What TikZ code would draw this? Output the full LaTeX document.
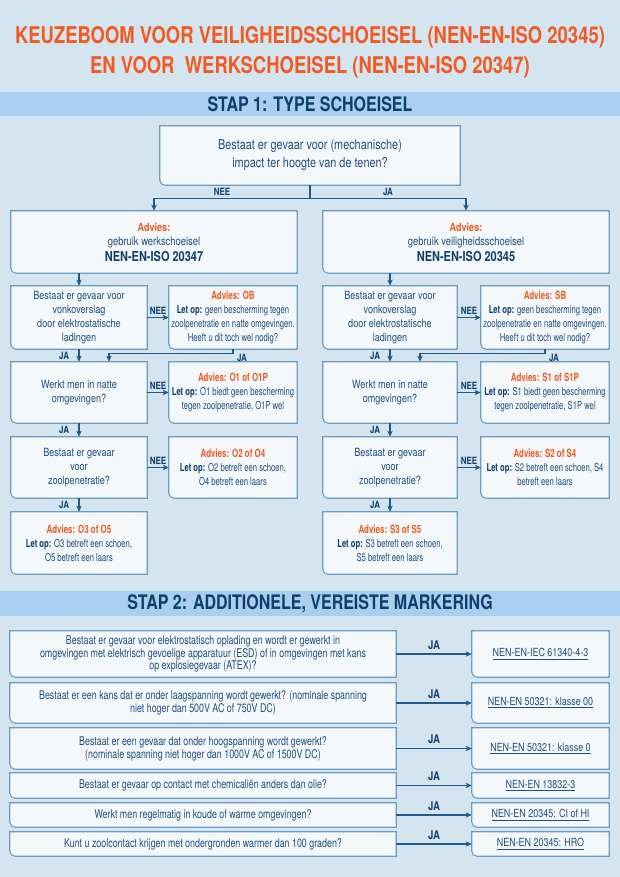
\documentclass[tikz,border=0pt]{standalone}
\usepackage{fontspec}
\setmainfont{TeX Gyre Heros}[FakeStretch=0.8]
\newfontfamily\narrowf{TeX Gyre Heros}[FakeStretch=0.7]
\newfontfamily\midf{TeX Gyre Heros}[FakeStretch=0.74]
\usetikzlibrary{arrows.meta,calc}
\pgfdeclarelayer{back}\pgfdeclarelayer{bg}\pgfsetlayers{back,bg,main}
\definecolor{bgcol}{HTML}{D4E5F0}
\definecolor{bandcol}{HTML}{A9CEEE}
\definecolor{boxfill}{HTML}{F4F8FB}
\definecolor{boxedge}{HTML}{6B9DC3}
\definecolor{txt}{HTML}{1F4F7D}
\definecolor{dark}{HTML}{0F3F6C}
\definecolor{orng}{HTML}{F15A22}
\definecolor{conn}{HTML}{1F5A8A}
\tikzset{
  boxline/.style={draw=boxedge, fill=boxfill, line width=0.8pt},
  arr/.style={draw=conn, line width=0.9pt, -{Stealth[length=4.5pt,width=4pt,inset=1.2pt]}},
  ln/.style={draw=conn, line width=0.9pt},
  lbl/.style={font=\bfseries\fontsize{7.5}{8}\selectfont, text=dark, inner sep=1pt},
  jalbl/.style={font=\bfseries\fontsize{9}{10}\selectfont, text=dark, inner sep=2pt},
  topq/.style={inner sep=0, align=center, text=txt, font=\fontsize{10.2}{13.5}\selectfont},
  advtext/.style={inner sep=0, align=center, text=txt, font=\fontsize{8.8}{10.5}\selectfont},
  qtext/.style={inner sep=0, align=center, text=txt, font=\fontsize{8.5}{10.5}\selectfont},
  otext/.style={inner sep=0, align=center, text=txt, font=\narrowf\fontsize{8.2}{10.5}\selectfont},
  stwo/.style={inner sep=0, align=center, text=txt, font=\midf\fontsize{9}{8.4}\selectfont},
  sres/.style={inner sep=0, align=center, text=txt, font=\fontsize{8.4}{10}\selectfont},
  ttl/.style={text=orng, font=\bfseries\fontsize{17.3}{20}\selectfont, inner sep=0},
  bandtxt/.style={text=dark, font=\bfseries\fontsize{15}{17}\selectfont, inner sep=0}
}
\newcommand\boxnode[7]{\node[#6, minimum width={(#4-#2)*0.75pt}, minimum height={(#5-#3)*0.75pt}] (#1) at ({(#2+#4)/2},{(#3+#5)/2}) {#7};}
\newcommand\bx[1]{\draw[boxline] ([yshift=4pt]#1.south west) -- (#1.north west) -- (#1.north east) -- (#1.south east) -- ([xshift=4pt]#1.south west) arc[start angle=270,end angle=180,radius=4pt] -- cycle;}
\newcommand\advh[1]{{\color{orng}\bfseries\fontsize{8.5}{10.5}\selectfont #1}}
\newcommand\letop{{\color{dark}\bfseries Let op:}}
\begin{document}
\begin{tikzpicture}[x=0.75pt,y=-0.75pt]
\useasboundingbox (0,0) rectangle (620,877);
\begin{pgfonlayer}{back}
\fill[bgcol] (0,0) rectangle (620,877);
\fill[bandcol] (0,92) rectangle (620,116);
\fill[bandcol] (0,591) rectangle (620,616);
\end{pgfonlayer}
\node[ttl] (t1) at (310,37) {KEUZEBOOM VOOR VEILIGHEIDSSCHOEISEL (NEN-EN-ISO 20345)};
\node[ttl] (t2) at (310,67) {EN VOOR\ \ WERKSCHOEISEL (NEN-EN-ISO 20347)};
\node[bandtxt] (s1) at (310,104) {STAP 1: TYPE SCHOEISEL};
\node[bandtxt] (s2) at (310,604) {STAP 2: ADDITIONELE, VEREISTE MARKERING};

% step 1
\boxnode{q0}{160}{126}{460}{185}{topq}{Bestaat er gevaar voor (mechanische)\\impact ter hoogte van de tenen?}
\boxnode{aL}{11}{211}{297}{273}{advtext}{\advh{Advies:}\\gebruik werkschoeisel\\[1.5pt]{\color{dark}\bfseries\fontsize{10.3}{12}\selectfont NEN-EN-ISO 20347}}
\boxnode{aR}{323}{211}{609}{273}{advtext}{\advh{Advies:}\\gebruik veiligheidsschoeisel\\[1.5pt]{\color{dark}\bfseries\fontsize{10.3}{12}\selectfont NEN-EN-ISO 20345}}

\boxnode{qL1}{11}{286}{147}{349}{qtext}{Bestaat er gevaar voor\\vonkoverslag\\door elektrostatische\\ladingen}
\boxnode{oL1}{169}{286}{297}{349}{otext}{\advh{Advies: OB}\\\letop{} geen bescherming tegen\\zoolpenetratie en natte omgevingen.\\Heeft u dit toch wel nodig?}
\boxnode{qL2}{11}{362}{147}{423}{qtext}{Werkt men in natte\\omgevingen?}
\boxnode{oL2}{169}{362}{297}{423}{otext}{\advh{Advies: O1 of O1P}\\\letop{} O1 biedt geen bescherming\\tegen zoolpenetratie, O1P wel}
\boxnode{qL3}{11}{437}{147}{498}{qtext}{Bestaat er gevaar\\voor\\zoolpenetratie?}
\boxnode{oL3}{169}{437}{297}{498}{otext}{\advh{Advies: O2 of O4}\\\letop{} O2 betreft een schoen,\\O4 betreft een laars}
\boxnode{oL4}{11}{512}{147}{574}{otext}{\advh{Advies: O3 of O5}\\\letop{} O3 betreft een schoen,\\O5 betreft een laars}

\boxnode{qR1}{323}{286}{457}{349}{qtext}{Bestaat er gevaar voor\\vonkoverslag\\door elektrostatische\\ladingen}
\boxnode{oR1}{481}{286}{609}{349}{otext}{\advh{Advies: SB}\\\letop{} geen bescherming tegen\\zoolpenetratie en natte omgevingen.\\Heeft u dit toch wel nodig?}
\boxnode{qR2}{323}{362}{457}{423}{qtext}{Werkt men in natte\\omgevingen?}
\boxnode{oR2}{481}{362}{609}{423}{otext}{\advh{Advies: S1 of S1P}\\\letop{} S1 biedt geen bescherming\\tegen zoolpenetratie, S1P wel}
\boxnode{qR3}{323}{437}{457}{498}{qtext}{Bestaat er gevaar\\voor\\zoolpenetratie?}
\boxnode{oR3}{481}{437}{609}{498}{otext}{\advh{Advies: S2 of S4}\\\letop{} S2 betreft een schoen, S4\\betreft een laars}
\boxnode{oR4}{323}{512}{457}{574}{otext}{\advh{Advies: S3 of S5}\\\letop{} S3 betreft een schoen,\\S5 betreft een laars}

% step 2
\boxnode{l1}{10}{631}{396}{677}{stwo}{Bestaat er gevaar voor elektrostatisch oplading en wordt er gewerkt in\\omgevingen met elektrisch gevoelige apparatuur (ESD) of in omgevingen met kans\\op explosiegevaar (ATEX)?}
\boxnode{r1}{472}{631}{609}{677}{sres}{\underline{NEN-EN-IEC 61340-4-3}}
\boxnode{l2}{10}{683}{396}{723}{stwo}{Bestaat er een kans dat er onder laagspanning wordt gewerkt? (nominale spanning\\niet hoger dan 500V AC of 750V DC)}
\boxnode{r2}{472}{683}{609}{723}{sres}{\underline{NEN-EN 50321: klasse 00}}
\boxnode{l3}{10}{728}{396}{769}{stwo}{Bestaat er een gevaar dat onder hoogspanning wordt gewerkt?\\(nominale spanning niet hoger dan 1000V AC of 1500V DC)}
\boxnode{r3}{472}{728}{609}{769}{sres}{\underline{NEN-EN 50321: klasse 0}}
\boxnode{l4}{10}{773}{396}{798}{stwo}{Bestaat er gevaar op contact met chemicaliën anders dan olie?}
\boxnode{r4}{472}{773}{609}{798}{sres}{\underline{NEN-EN 13832-3}}
\boxnode{l5}{10}{803}{396}{827}{stwo}{Werkt men regelmatig in koude of warme omgevingen?}
\boxnode{r5}{472}{803}{609}{827}{sres}{\underline{NEN-EN 20345: CI of HI}}
\boxnode{l6}{10}{832}{396}{856}{stwo}{Kunt u zoolcontact krijgen met ondergronden warmer dan 100 graden?}
\boxnode{r6}{472}{832}{609}{856}{sres}{\underline{NEN-EN 20345: HRO}}

\begin{pgfonlayer}{bg}
\foreach \n in {q0,aL,aR,qL1,oL1,qL2,oL2,qL3,oL3,oL4,qR1,oR1,qR2,oR2,qR3,oR3,oR4,l1,r1,l2,r2,l3,r3,l4,r4,l5,r5,l6,r6} {\bx{\n}}
\end{pgfonlayer}

% connectors step 1
\coordinate (j0) at ($(q0.south)+(0,13)$);
\draw[ln] (q0.south) -- (j0);
\draw[arr] (j0) -| (aL.north);
\draw[arr] (j0) -| (aR.north);
\node[lbl] (nee0) at (222,192) {NEE};
\node[lbl] (ja0) at (388,192) {JA};

\draw[arr] (qL1.north |- aL.south) -- (qL1.north);
\draw[arr] (qR1.north |- aR.south) -- (qR1.north);

\draw[arr] (qL1.east) -- node[lbl, above=1pt] (neeL1) {NEE} (oL1.west);
\draw[arr] (qL2.east) -- node[lbl, above=1pt] (neeL2) {NEE} (oL2.west);
\draw[arr] (qL3.east) -- node[lbl, above=1pt] (neeL3) {NEE} (oL3.west);
\draw[arr] (qR1.east) -- node[lbl, above=1pt] (neeR1) {NEE} (oR1.west);
\draw[arr] (qR2.east) -- node[lbl, above=1pt] (neeR2) {NEE} (oR2.west);
\draw[arr] (qR3.east) -- node[lbl, above=1pt] (neeR3) {NEE} (oR3.west);

\draw[arr] (qL1.south) -- node[lbl, left=6pt] (jaL1) {JA} (qL2.north);
\draw[arr] (qL2.south) -- node[lbl, left=6pt] (jaL2) {JA} (qL3.north);
\draw[arr] (qL3.south) -- node[lbl, left=6pt] (jaL3) {JA} (oL4.north);
\draw[arr] (qR1.south) -- node[lbl, left=6pt] (jaR1) {JA} (qR2.north);
\draw[arr] (qR2.south) -- node[lbl, left=6pt] (jaR2) {JA} (qR3.north);
\draw[arr] (qR3.south) -- node[lbl, left=6pt] (jaR3) {JA} (oR4.north);

\draw[arr] (oL1.south) -- ++(0,4) -| ($(qL2.north)+(30,0)$);
\node[lbl] (jaOB) at ($(oL1.south)+(9,9)$) {JA};
\draw[arr] (oR1.south) -- ++(0,4) -| ($(qR2.north)+(30,0)$);
\node[lbl] (jaSB) at ($(oR1.south)+(9,9)$) {JA};

% connectors step 2
\draw[arr] (l1.east) -- node[jalbl, above=1pt] (ja1) {JA} (r1.west);
\draw[arr] (l2.east) -- node[jalbl, above=1pt] (ja2) {JA} (r2.west);
\draw[arr] (l3.east) -- node[jalbl, above=1pt] (ja3) {JA} (r3.west);
\draw[arr] (l4.east) -- node[jalbl, above=1pt] (ja4) {JA} (r4.west);
\draw[arr] (l5.east) -- node[jalbl, above=1pt] (ja5) {JA} (r5.west);
\draw[arr] (l6.east) -- node[jalbl, above=1pt] (ja6) {JA} (r6.west);
\end{tikzpicture}
\end{document}
